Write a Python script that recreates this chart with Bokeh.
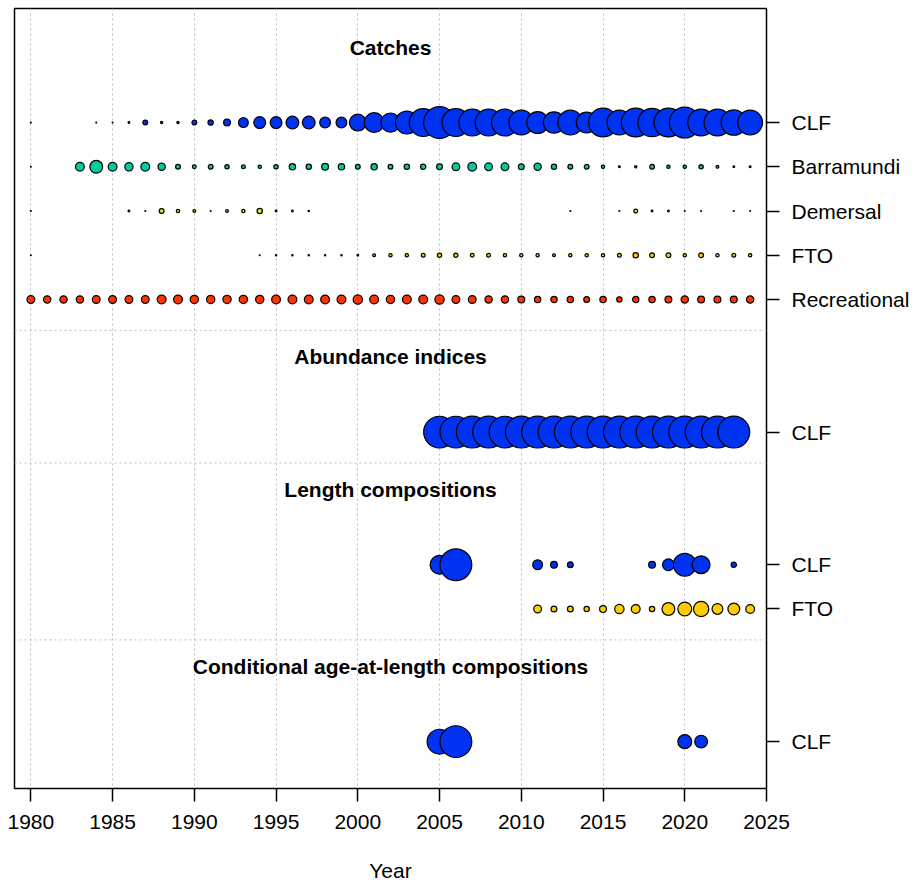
import math

from bokeh.core.properties import value
from bokeh.embed import file_html
from bokeh.models import ColumnDataSource, FixedTicker, Range1d, Span
from bokeh.plotting import figure
from bokeh.resources import INLINE

# ---------------------------------------------------------------------------
# Data (relative magnitudes; bubble area is proportional to the value)
# ---------------------------------------------------------------------------

# Catches
catch_clf_years = [1980] + list(range(1984, 2025))
catch_clf = [0.2, 0.1, 0.2, 0.8, 3.3, 1.1, 1.1, 3.3, 3.9, 5.9,
             11.1, 15.5, 15.5, 18.0, 18.0, 13.2, 13.2, 29.7, 40.5, 38.0,
             52.9, 77.2, 100.0, 77.2, 72.0, 72.0, 72.0, 62.1, 48.6, 46.5,
             62.1, 44.4, 82.6, 62.1, 82.6, 79.9, 82.6, 94.0, 72.0, 72.0,
             64.5, 62.1]

catch_barra_years = [1980] + list(range(1983, 2025))
catch_barra = [0.1, 9.2, 18.0, 9.2, 8.3, 9.2, 6.6, 3.3, 2.3, 3.3,
               2.8, 2.3, 1.9, 2.8, 5.2, 3.9, 5.9, 5.2, 3.3, 5.2,
               3.3, 3.9, 3.9, 4.5, 7.4, 9.2, 7.4, 7.4, 4.5, 6.6,
               3.9, 3.3, 3.3, 1.9, 0.8, 1.1, 3.3, 1.9, 1.9, 2.8,
               1.5, 0.8, 0.8]

catch_dem_years = [1980, 1986, 1987, 1988, 1989, 1990, 1991, 1992, 1993,
                   1994, 1995, 1996, 1997, 2013, 2016, 2017, 2018, 2019,
                   2020, 2021, 2023, 2024]
catch_dem = [0.1, 0.8, 0.2, 3.3, 1.9, 1.5, 0.4, 1.5, 1.9,
             3.9, 0.8, 0.8, 0.6, 0.2, 0.2, 2.3, 0.8, 0.8,
             0.2, 0.2, 0.2, 0.2]

catch_fto_years = [1980] + list(range(1994, 2025))
catch_fto = [0.1, 0.2, 0.6, 0.6, 0.6, 0.6, 0.6, 0.8, 1.5, 1.9,
             1.9, 2.3, 2.8, 2.8, 2.3, 2.3, 1.9, 1.9, 1.9, 1.5,
             1.9, 1.9, 1.9, 2.3, 3.9, 3.3, 3.3, 1.9, 3.3, 1.9,
             2.3, 1.9]

catch_rec_years = list(range(1980, 2025))
catch_rec = [7.4, 6.6, 6.6, 6.6, 7.4, 7.4, 7.4, 7.4, 9.2, 9.2,
             8.3, 8.3, 8.3, 8.3, 8.3, 9.2, 9.2, 9.2, 9.2, 9.2,
             10.1, 9.2, 8.3, 9.2, 9.2, 10.1, 7.4, 7.4, 6.6, 6.6,
             5.9, 5.2, 5.2, 5.2, 4.5, 5.2, 3.9, 5.2, 5.2, 5.9,
             6.6, 5.9, 5.9, 5.9, 6.6]

# Abundance indices
index_clf_years = list(range(2005, 2024))
index_clf = [1.0, 1.0, 1.0, 1.0, 1.0, 1.0, 1.0, 1.0, 1.0, 1.0,
             1.0, 1.0, 1.0, 1.0, 1.0, 1.0, 1.0, 1.0, 1.0]

# Length compositions (relative sample sizes)
len_clf_years = [2005, 2006, 2011, 2012, 2013, 2018, 2019, 2020, 2021, 2023]
len_clf = [36.7, 100.0, 11.1, 5.9, 4.5, 5.9, 15.5, 52.9, 33.1, 3.9]

len_fto_years = list(range(2011, 2025))
len_fto = [7.4, 4.5, 4.5, 3.9, 5.9, 10.1, 9.2, 3.9, 18.0, 20.7,
           25.0, 13.2, 15.5, 9.2]

# Conditional age-at-length compositions
caal_clf_years = [2005, 2006, 2020, 2021]
caal_clf = [62.1, 100.0, 20.7, 18.0]

# Fleet colours
fleet_colors = {
    "CLF": "#0033F1",
    "Barramundi": "#01CC9B",
    "Demersal": "#BAFF11",
    "FTO": "#FFCC00",
    "Recreational": "#FF3300",
}

panels = [
    ("Catches", [
        ("CLF", catch_clf_years, catch_clf),
        ("Barramundi", catch_barra_years, catch_barra),
        ("Demersal", catch_dem_years, catch_dem),
        ("FTO", catch_fto_years, catch_fto),
        ("Recreational", catch_rec_years, catch_rec),
    ]),
    ("Abundance indices", [
        ("CLF", index_clf_years, index_clf),
    ]),
    ("Length compositions", [
        ("CLF", len_clf_years, len_clf),
        ("FTO", len_fto_years, len_fto),
    ]),
    ("Conditional age-at-length compositions", [
        ("CLF", caal_clf_years, caal_clf),
    ]),
]

year_ticks = list(range(1980, 2030, 5))

# ---------------------------------------------------------------------------
# Layout of the rows (one unit per fleet row)
# ---------------------------------------------------------------------------
FONT = value("Liberation Sans")
MAX_D = 33.0          # apparent diameter of the largest bubble in a panel
EDGE_W = 1.2          # bubble outline width
TITLE_GAP = 1.7
SEP_GAP = 0.7
PANEL_GAP = 3

row_y = 1
title_pos = []
separators = []
row_ticks = []
row_labels = {}
layout = []
for pi, (title, rows) in enumerate(panels):
    title_pos.append((title, row_y - TITLE_GAP))
    placed = []
    for name, yrs, vals in rows:
        placed.append((name, yrs, vals, row_y))
        row_ticks.append(row_y)
        row_labels[row_y] = name
        row_y += 1
    layout.append(placed)
    last = row_y - 1
    if pi < len(panels) - 1:
        separators.append(last + SEP_GAP)
        row_y = last + PANEL_GAP

y_top = 1 - 2.58
y_bottom = row_ticks[-1] + 1.06

p = figure(
    width=914, height=885,
    x_range=Range1d(1979, 2025),
    y_range=Range1d(y_bottom, y_top),
    y_axis_location="right",
    output_backend="svg",
    toolbar_location=None,
    min_border_left=14, min_border_right=148,
    min_border_top=8, min_border_bottom=97,
)
p.background_fill_color = "white"
p.border_fill_color = "white"
p.outline_line_color = "black"
p.outline_line_width = 1.5

# grid: dotted verticals at the year ticks, none horizontal
p.xgrid.ticker = FixedTicker(ticks=year_ticks[:-1])
p.xgrid.grid_line_color = "#BEBEBE"
p.xgrid.grid_line_dash = "2 3"
p.xgrid.grid_line_width = 1
p.ygrid.grid_line_color = None

for s in separators:
    p.add_layout(Span(location=s, dimension="width", line_color="#BEBEBE",
                      line_dash="2 3", line_width=1))

# bubbles
for placed in layout:
    vmax = max(max(v) for _, _, v, _ in placed)
    for name, yrs, vals, y in placed:
        sizes = [max(MAX_D * math.sqrt(v / vmax) - EDGE_W, 0.9) for v in vals]
        src = ColumnDataSource(dict(x=yrs, y=[y] * len(yrs), size=sizes))
        p.scatter("x", "y", size="size", source=src, marker="circle",
                  fill_color=fleet_colors[name], line_color="black",
                  line_width=EDGE_W)

# panel titles
x_mid = (p.x_range.start + p.x_range.end) / 2
tsrc = ColumnDataSource(dict(
    x=[x_mid] * len(title_pos),
    y=[t[1] for t in title_pos],
    text=[t[0] for t in title_pos],
))
p.text("x", "y", text="text", source=tsrc, text_font=FONT,
       text_font_style="bold", text_font_size="21px", text_align="center",
       text_baseline="middle", text_color="black")

# x axis
xa = p.xaxis[0]
xa.ticker = FixedTicker(ticks=year_ticks)
xa.axis_label = "Year"
xa.axis_label_text_font = "Liberation Sans"
xa.axis_label_text_font_style = "normal"
xa.axis_label_text_font_size = "21px"
xa.axis_label_text_color = "black"
xa.axis_label_standoff = 27
xa.major_label_text_font = "Liberation Sans"
xa.major_label_text_font_size = "21px"
xa.major_label_text_color = "black"
xa.major_label_standoff = 13
xa.major_tick_in = 0
xa.major_tick_out = 13
xa.major_tick_line_width = 1.5
xa.minor_tick_line_color = None
xa.axis_line_color = None

# right axis with fleet names
ya = p.yaxis[0]
ya.ticker = FixedTicker(ticks=row_ticks)
ya.major_label_overrides = {int(k): v for k, v in row_labels.items()}
ya.major_label_text_font = "Liberation Sans"
ya.major_label_text_font_size = "21px"
ya.major_label_text_color = "black"
ya.major_label_standoff = 12
ya.major_tick_in = 0
ya.major_tick_out = 13
ya.major_tick_line_width = 1.5
ya.minor_tick_line_color = None
ya.axis_line_color = None

open("out.html", "w").write(file_html(p, INLINE))
